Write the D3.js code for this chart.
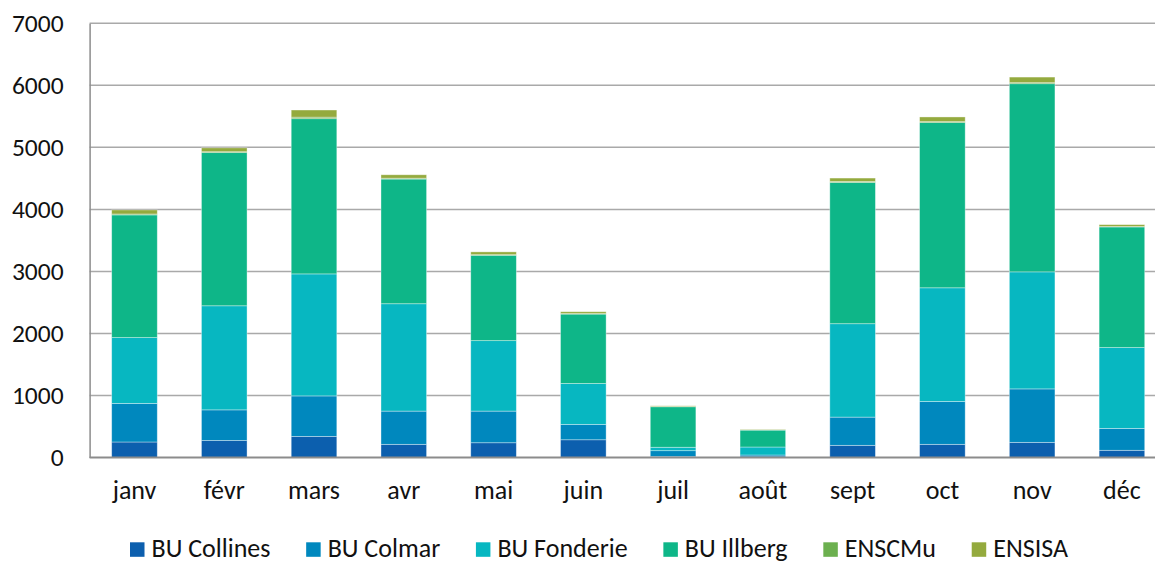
<!DOCTYPE html>
<html>
<head>
<meta charset="utf-8">
<script src="https://cdn.jsdelivr.net/npm/d3@7"></script>
<style>
  html, body { margin: 0; padding: 0; background: #fff; }
  svg { display: block; }
  text { font-family: Carlito, Calibri, Lato, "DejaVu Sans", sans-serif; fill: #111; }
</style>
</head>
<body>
<svg id="chart" width="1155" height="561"></svg>
<script>
// Monthly counts per library, stacked
const months = ["janv", "févr", "mars", "avr", "mai", "juin", "juil", "août", "sept", "oct", "nov", "déc"];
const seriesNames = ["BU Collines", "BU Colmar", "BU Fonderie", "BU Illberg", "ENSCMu", "ENSISA"];
const buCollines = [250, 275, 340, 212, 238, 286, 15, 10, 196, 212, 244, 116];
const buColmar   = [622, 493, 653, 536, 510, 248, 95, 30, 455, 691, 862, 353];
const buFonderie = [1061, 1678, 1967, 1731, 1136, 659, 55, 129, 1506, 1833, 1887, 1303];
const buIllberg  = [1978, 2469, 2502, 2010, 1376, 1119, 653, 273, 2277, 2663, 3033, 1945];
const enscmu     = [15, 15, 25, 14, 10, 8, 5, 4, 16, 16, 17, 7];
const ensisa     = [65, 62, 115, 55, 45, 30, 10, 7, 55, 75, 90, 30];
const yTicks = [0, 1000, 2000, 3000, 4000, 5000, 6000, 7000];
const colors = ["#0c5fae", "#0088be", "#07b7c1", "#0eb688", "#6cb04f", "#94aa3e"];

const seriesValues = [buCollines, buColmar, buFonderie, buIllberg, enscmu, ensisa];
const rows = months.map((m, i) => {
  const r = { month: m };
  seriesNames.forEach((s, k) => { r[s] = seriesValues[k][i]; });
  return r;
});

const svg = d3.select("#chart");
const plotLeft = 89.6, plotRight = 1166.8, plotTop = 23.3, plotBottom = 457.5;

const x = d3.scaleBand()
  .domain(months)
  .range([plotLeft, plotRight])
  .paddingInner(0.492)
  .paddingOuter(0.246);

const y = d3.scaleLinear().domain([0, 7000]).range([plotBottom, plotTop]);

// Horizontal gridlines
svg.append("g")
  .selectAll("line")
  .data(yTicks.filter(t => t > 0))
  .join("line")
  .attr("x1", plotLeft).attr("x2", 1155)
  .attr("y1", d => y(d)).attr("y2", d => y(d))
  .attr("stroke", "#a9a9a9")
  .attr("stroke-width", 1.5);

// Stacked bars
const stack = d3.stack().keys(seriesNames)(rows);
svg.append("g")
  .selectAll("g")
  .data(stack)
  .join("g")
  .attr("fill", (d, i) => colors[i])
  .selectAll("rect")
  .data(d => d)
  .join("rect")
  .attr("x", d => x(d.data.month))
  .attr("width", x.bandwidth())
  .attr("y", d => y(d[1]))
  .attr("height", d => y(d[0]) - y(d[1]))
  .attr("stroke", "rgba(255,255,255,0.45)")
  .attr("stroke-width", 0.8);

// Y axis
const yAxis = svg.append("g")
  .attr("transform", `translate(${plotLeft},0)`)
  .call(d3.axisLeft(y).tickValues(yTicks).tickSize(0).tickPadding(26).tickFormat(d3.format("d")));
yAxis.select(".domain").attr("stroke", "#8c8c8c").attr("stroke-width", 1.5);
yAxis.selectAll("text")
  .attr("font-size", 25.5)
  .attr("font-family", "Carlito, Calibri, Lato, sans-serif")
  .attr("fill", "#111");

// X axis
const xAxis = svg.append("g")
  .attr("transform", `translate(0,${plotBottom})`)
  .call(d3.axisBottom(x).tickSize(0).tickPadding(23));
xAxis.select(".domain").attr("d", `M${plotLeft},0H1155`).attr("stroke", "#8c8c8c").attr("stroke-width", 2);
xAxis.selectAll("text")
  .attr("font-size", 26)
  .attr("font-family", "Carlito, Calibri, Lato, sans-serif")
  .attr("fill", "#111");

// Legend, spread between its first swatch and last label end
const legend = svg.append("g");
const items = legend.selectAll("g")
  .data(seriesNames)
  .join("g");
items.append("rect")
  .attr("width", 14.5).attr("height", 14.5)
  .attr("y", 542.3)
  .attr("fill", (d, i) => colors[i]);
items.append("text")
  .attr("x", 21.5)
  .attr("y", 557)
  .attr("font-size", 26)
  .text(d => d);

const legendStart = 130, legendEnd = 1068;
const widths = [];
items.each(function () {
  widths.push(21.5 + this.querySelector("text").getComputedTextLength());
});
const gap = (legendEnd - legendStart - d3.sum(widths)) / (widths.length - 1);
let cursor = legendStart;
const positions = widths.map(w => { const p = cursor; cursor += w + gap; return p; });
items.attr("transform", (d, i) => `translate(${positions[i]},0)`);
</script>
</body>
</html>
